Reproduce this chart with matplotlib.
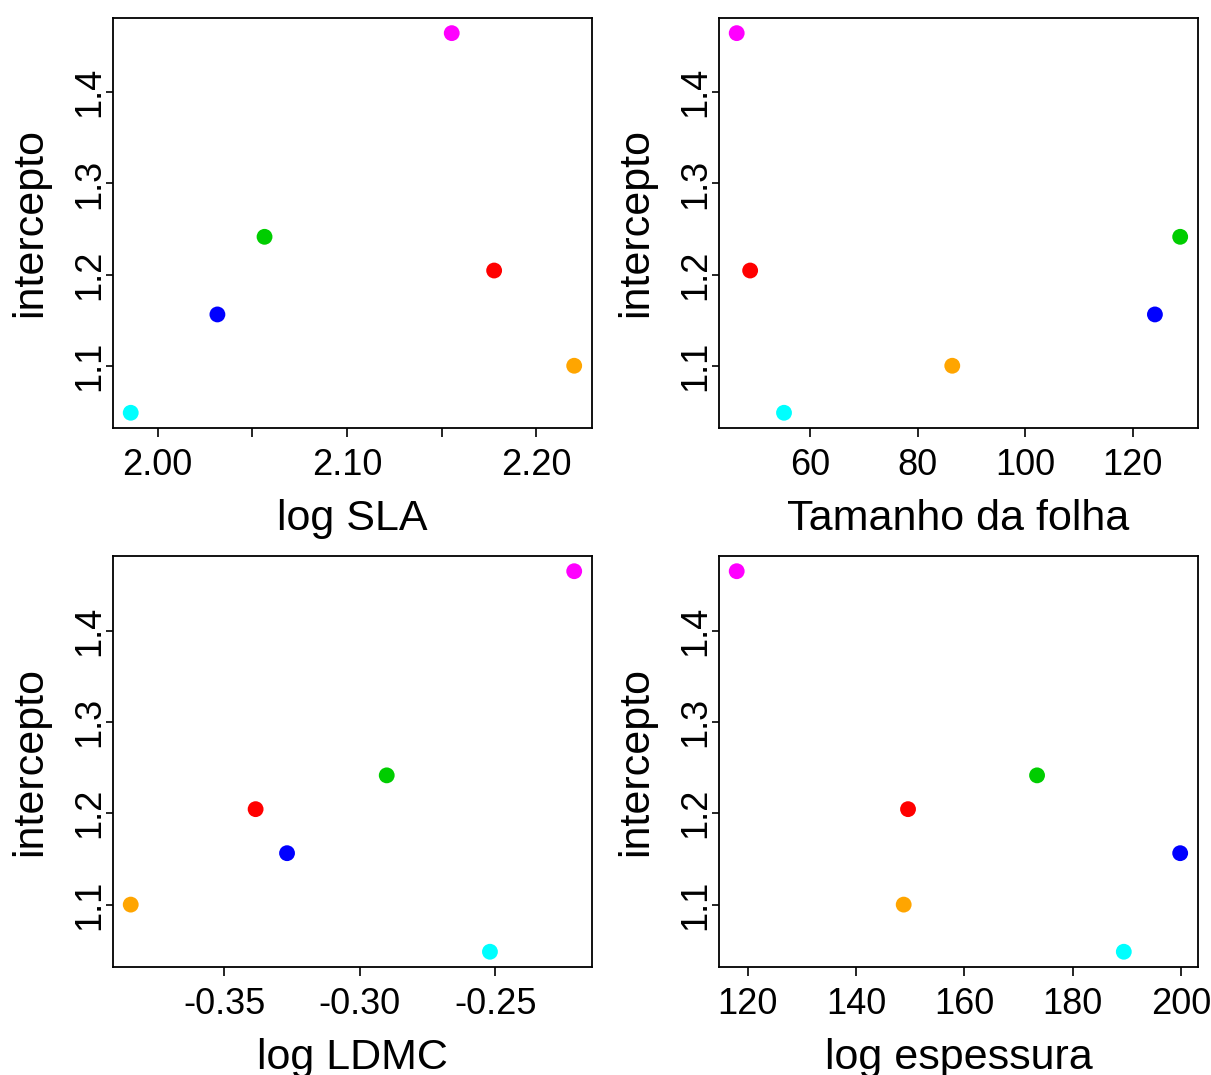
import numpy as np
import matplotlib
matplotlib.use("Agg")
import matplotlib.pyplot as plt

plt.rcParams['font.family'] = ['Liberation Sans', 'DejaVu Sans']
plt.rcParams['axes.unicode_minus'] = False

# intercepto de cada especie e os tracos foliares
intercepto = [1.465, 1.2415, 1.2045, 1.1563, 1.100, 1.0484]
cores = ['#FF00FF', '#00CD00', '#FF0000', '#0000FF', '#FFA500', '#00FFFF']

log_sla = [2.1554, 2.0565, 2.1778, 2.0316, 2.2201, 1.9858]
tamanho_folha = [46.3, 128.8, 48.8, 124.1, 86.4, 55.1]
log_ldmc = [-0.2209, -0.2901, -0.3385, -0.3269, -0.3846, -0.2520]
log_espessura = [118.0, 173.4, 149.6, 199.8, 148.8, 189.4]

paineis = [
    (log_sla, "log SLA", [2.00, 2.05, 2.10, 2.15, 2.20], ["2.00", "", "2.10", "", "2.20"]),
    (tamanho_folha, "Tamanho da folha", [60, 80, 100, 120], ["60", "80", "100", "120"]),
    (log_ldmc, "log LDMC", [-0.35, -0.30, -0.25], ["-0.35", "-0.30", "-0.25"]),
    (log_espessura, "log espessura", [120, 140, 160, 180, 200], ["120", "140", "160", "180", "200"]),
]
yticks = [1.1, 1.2, 1.3, 1.4]

fig = plt.figure(figsize=(12.11, 10.75), dpi=100)
posicoes = [
    [0.0933, 0.6019, 0.3955, 0.3814],
    [0.5937, 0.6019, 0.3955, 0.3814],
    [0.0933, 0.1005, 0.3955, 0.3823],
    [0.5937, 0.1005, 0.3955, 0.3823],
]

for pos, (x, nome, xt, xl) in zip(posicoes, paineis):
    ax = fig.add_axes(pos)
    ax.scatter(x, intercepto, c=cores, s=130, linewidths=0, zorder=3)
    ax.margins(0.04)
    ax.set_xticks(xt)
    ax.set_xticklabels(xl)
    ax.set_yticks(yticks)
    ax.set_yticklabels([str(v) for v in yticks])
    plt.setp(ax.get_yticklabels(), rotation=90, va='center')
    ax.tick_params(axis='x', length=6.5, width=1.2, labelsize=26, pad=8)
    ax.tick_params(axis='y', length=5, width=1.2, labelsize=26, pad=-1.2)
    for s in ax.spines.values():
        s.set_linewidth(1.3)
    ax.set_xlabel(nome, fontsize=31, labelpad=11.5)
    ax.set_ylabel("intercepto", fontsize=31, labelpad=16)

fig.savefig("out.png", dpi=100)
